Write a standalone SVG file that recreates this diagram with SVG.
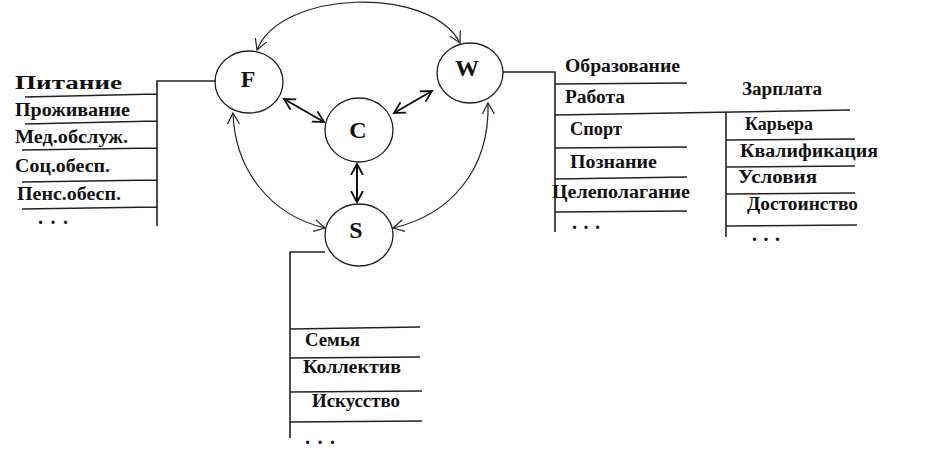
<svg xmlns="http://www.w3.org/2000/svg" width="946" height="451" viewBox="0 0 946 451">
<style>
.n{fill:#fff;stroke:#222;stroke-width:1.3}
.lt{font-family:"Liberation Serif","DejaVu Serif",serif;font-weight:bold;font-size:24px;fill:#111;text-anchor:middle}
.t{font-family:"Liberation Serif","DejaVu Serif",serif;font-weight:bold;font-size:18px;fill:#111}
.d{font-family:"Liberation Serif","DejaVu Serif",serif;font-weight:bold;font-size:20px;fill:#111}
.ln{stroke:#222;stroke-width:1.6;fill:none}
.arc{stroke:#222;stroke-width:1.2;fill:none;marker-start:url(#ah);marker-end:url(#ah)}
.dbl{stroke:#111;stroke-width:2;fill:none;marker-start:url(#ah2);marker-end:url(#ah2)}
</style>
<defs>
<marker id="ah" markerUnits="userSpaceOnUse" markerWidth="14" markerHeight="14" refX="11" refY="6" orient="auto-start-reverse" viewBox="0 0 14 12">
<path d="M0,0 L11,6 L0,12" fill="none" stroke="#222" stroke-width="1.2"/>
</marker>
<marker id="ah2" markerUnits="userSpaceOnUse" markerWidth="14" markerHeight="14" refX="11" refY="6" orient="auto-start-reverse" viewBox="0 0 14 12">
<path d="M0,0 L11,6 L0,12" fill="none" stroke="#111" stroke-width="1.8"/>
</marker>
</defs>
<g id="connectors">
<path class="arc" d="M257,50 C280,-10 430,-15 460,43"/>
<path class="arc" d="M233,113 C235,170 270,215 325,228"/>
<path class="arc" d="M488,103 C490,170 450,215 393,228"/>
<line class="dbl" x1="284" y1="99" x2="324" y2="122"/>
<line class="dbl" x1="432" y1="91" x2="394" y2="113"/>
<line class="dbl" x1="357" y1="164" x2="357" y2="202"/>
</g>
<g id="node-F"><ellipse class="n" cx="249" cy="82" rx="34" ry="31"/><text class="lt" x="248" y="87">F</text></g>
<g id="node-W"><ellipse class="n" cx="470" cy="73" rx="33" ry="30"/><text class="lt" x="467" y="76">W</text></g>
<g id="node-C"><ellipse class="n" cx="359" cy="130" rx="34" ry="32"/><text class="lt" x="358" y="138">C</text></g>
<g id="node-S"><ellipse class="n" cx="359" cy="235" rx="34" ry="31"/><text class="lt" x="356" y="238">S</text></g>
<g id="list-F">
<path class="ln" d="M216,81 H157 V226 M25,97 L157,94 M25,124 L157,121 M22,150 L157,148 M22,182 L157,180 M22,209 L157,207"/>
<text class="t" x="15" y="89" textLength="107" lengthAdjust="spacingAndGlyphs">Питание</text>
<text class="t" x="15" y="116" textLength="115" lengthAdjust="spacingAndGlyphs">Проживание</text>
<text class="t" x="15" y="143" textLength="113" lengthAdjust="spacingAndGlyphs">Мед.обслуж.</text>
<text class="t" x="15" y="172" textLength="95" lengthAdjust="spacingAndGlyphs">Соц.обесп.</text>
<text class="t" x="17" y="200" textLength="104" lengthAdjust="spacingAndGlyphs">Пенс.обесп.</text>
<text class="d" x="38" y="224" textLength="30" lengthAdjust="spacing">. . .</text>
</g>
<g id="list-W">
<path class="ln" d="M503,72 H555 V232 M555,84 L687,83 M555,115 L850,110 M555,148 L687,147 M555,179 L687,177 M555,212 L687,211"/>
<text class="t" x="565" y="72" textLength="115" lengthAdjust="spacingAndGlyphs">Образование</text>
<text class="t" x="565" y="103" textLength="60" lengthAdjust="spacingAndGlyphs">Работа</text>
<text class="t" x="570" y="135" textLength="52" lengthAdjust="spacingAndGlyphs">Спорт</text>
<text class="t" x="570" y="168" textLength="87" lengthAdjust="spacingAndGlyphs">Познание</text>
<text class="t" x="552" y="198" textLength="138" lengthAdjust="spacingAndGlyphs">Целеполагание</text>
<text class="d" x="572" y="229" textLength="28" lengthAdjust="spacing">. . .</text>
</g>
<g id="list-Work">
<path class="ln" d="M726,112 V237 M726,140 L855,139 M726,167 L855,166 M726,194 L855,193 M726,226 L857,225"/>
<text class="t" x="742" y="95" textLength="80" lengthAdjust="spacingAndGlyphs">Зарплата</text>
<text class="t" x="745" y="130" textLength="68" lengthAdjust="spacingAndGlyphs">Карьера</text>
<text class="t" x="740" y="157" textLength="138" lengthAdjust="spacingAndGlyphs">Квалификация</text>
<text class="t" x="738" y="183" textLength="79" lengthAdjust="spacingAndGlyphs">Условия</text>
<text class="t" x="747" y="210" textLength="111" lengthAdjust="spacingAndGlyphs">Достоинство</text>
<text class="d" x="752" y="241" textLength="28" lengthAdjust="spacing">. . .</text>
</g>
<g id="list-S">
<path class="ln" d="M325,252 H290 V438 M290,329 L420,327 M290,358 L420,357 M290,392 L422,391 M290,422 L422,421"/>
<text class="t" x="305" y="346" textLength="55" lengthAdjust="spacingAndGlyphs">Семья</text>
<text class="t" x="303" y="373" textLength="98" lengthAdjust="spacingAndGlyphs">Коллектив</text>
<text class="t" x="312" y="407" textLength="88" lengthAdjust="spacingAndGlyphs">Искусство</text>
<text class="d" x="305" y="444" textLength="30" lengthAdjust="spacing">. . .</text>
</g>
</svg>
